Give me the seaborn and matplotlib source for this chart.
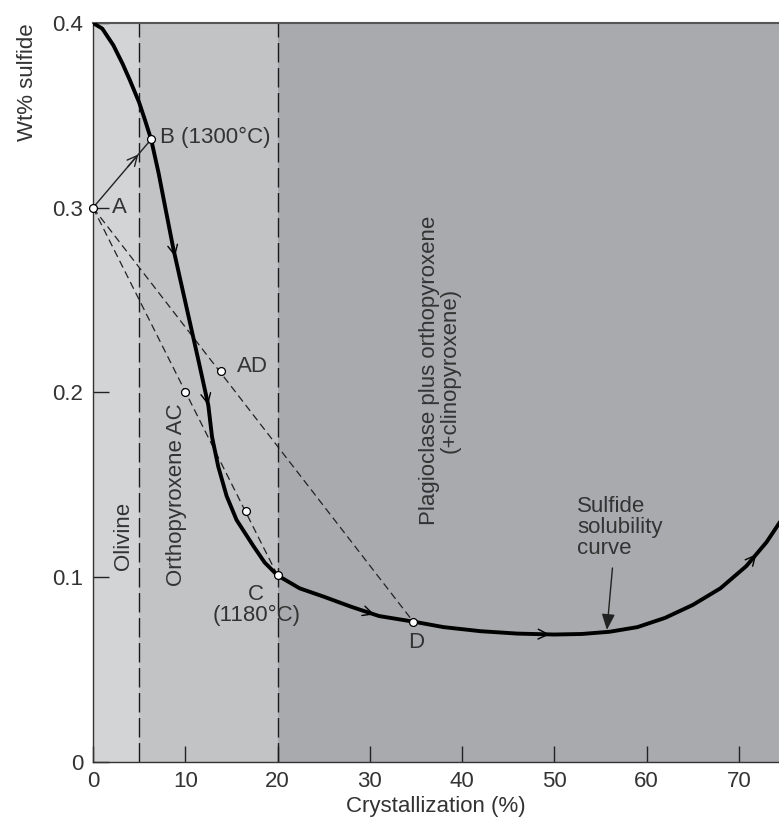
import numpy as np
import pandas as pd
import matplotlib
matplotlib.use("Agg")
import matplotlib.pyplot as plt
import seaborn as sns

# Sulfide solubility curve (crystallization %, wt% sulfide)
curve_x = [0, 1.0, 2.2, 3.2, 4.0, 5.0, 5.6, 6.3, 7.1, 7.8, 8.7, 9.6, 10.5, 11.4,
           12.5, 12.9, 13.57, 14.48, 15.56, 17.37, 18.6, 20.0, 22.4, 25.0, 28.0,
           31.0, 34.7, 38.0, 42.0, 46.0, 50.0, 53.0, 56.0, 59.0, 62.0, 65.0, 68.0,
           70.8, 73.0, 74.6]
curve_y = [0.400, 0.397, 0.388, 0.378, 0.369, 0.357, 0.348, 0.337, 0.319, 0.301,
           0.278, 0.258, 0.238, 0.218, 0.193, 0.176, 0.160, 0.144, 0.131, 0.117,
           0.108, 0.101, 0.094, 0.0895, 0.084, 0.079, 0.076, 0.073, 0.0708, 0.0695,
           0.069, 0.0693, 0.0705, 0.073, 0.078, 0.085, 0.094, 0.106, 0.119, 0.131]

# labelled points
pt_names = ["A", "B", "AC", "AC2", "AD", "C", "D"]
pt_x = [0, 6.3, 10.0, 16.6, 13.9, 20.0, 34.7]
pt_y = [0.300, 0.337, 0.200, 0.1357, 0.2117, 0.101, 0.076]

# crystallization fields
zone_edges = [0, 5, 20, 74.35]
zone_colors = ["#d3d4d6", "#c2c3c5", "#a9aaae"]

# where the flow arrows sit on the curve
arrow_x = [8.9, 12.49, 30.5, 49.5, 71.9]

xticks = [0, 10, 20, 30, 40, 50, 60, 70]
yticks = [0, 0.1, 0.2, 0.3, 0.4]
ytick_labels = ["0", "0.1", "0.2", "0.3", "0.4"]

sns.set_theme(style="ticks")
plt.rcParams["font.family"] = ["Liberation Sans", "DejaVu Sans"]
plt.rcParams["font.size"] = 16
txt = "#333333"

fig = plt.figure(figsize=(7.79, 8.23), dpi=100)
ax = fig.add_axes([93 / 779, 61 / 823, 1 - 93 / 779, (762 - 23) / 823])

# shaded fields and their dashed boundaries
for x0, x1, c in zip(zone_edges[:-1], zone_edges[1:], zone_colors):
    ax.axvspan(x0, x1, color=c, lw=0, zorder=0)
for xb in zone_edges[1:-1]:
    ax.axvline(xb, color="#1a1a1a", lw=1.0, ls=(0, (14, 4)), zorder=1)

# tie lines from A
pts = pd.DataFrame({"name": pt_names, "x": pt_x, "y": pt_y}).set_index("name")
ab = pts.loc[["A", "B"]]
sns.lineplot(x=ab.x.values, y=ab.y.values, sort=False, color="#222222", lw=1.0, ax=ax, zorder=3)
for end in ["C", "D"]:
    seg = pts.loc[["A", end]]
    sns.lineplot(x=seg.x.values, y=seg.y.values, sort=False, color="#222222", lw=0.9,
                 ax=ax, zorder=3, dashes=False, linestyle=(0, (6, 3.5)))

# arrowhead on A -> B
a, b = pts.loc["A"], pts.loc["B"]
frac = 0.78
ax.annotate("", xy=(a.x + frac * (b.x - a.x), a.y + frac * (b.y - a.y)),
            xytext=(a.x + 0.6 * (b.x - a.x), a.y + 0.6 * (b.y - a.y)),
            arrowprops=dict(arrowstyle="->,head_length=0.45,head_width=0.22",
                            lw=1.0, color="#222222", shrinkA=0, shrinkB=0), zorder=3)

# main curve
sns.lineplot(x=curve_x, y=curve_y, sort=False, color="black", lw=2.8, ax=ax, zorder=4,
             solid_joinstyle="round")

# open arrowheads along the curve
for xa in arrow_x:
    ya = np.interp(xa, curve_x, curve_y)
    yb = np.interp(xa - 0.25, curve_x, curve_y)
    ax.annotate("", xy=(xa, ya), xytext=(xa - 0.25, yb),
                arrowprops=dict(arrowstyle="->,head_length=0.45,head_width=0.22",
                                lw=1.0, color="black", shrinkA=0, shrinkB=0), zorder=5)

# points
sns.scatterplot(x=pt_x, y=pt_y, s=32, color="white", edgecolor="black", linewidth=0.9,
                ax=ax, zorder=6, clip_on=False)

# labels
ax.text(2.05, 0.300, "A", ha="left", va="center", color=txt)
ax.text(7.3, 0.338, "B (1300°C)", ha="left", va="center", color=txt)
ax.text(15.6, 0.214, "AD", ha="left", va="center", color=txt)
ax.text(17.7, 0.085, "C\n(1180°C)", ha="center", va="center", color=txt, linespacing=1.0)
ax.text(35.0, 0.0646, "D", ha="center", va="center", color=txt)
ax.text(3.3, 0.1226, "Olivine", rotation=90, ha="center", va="center", color=txt)
ax.text(9.0, 0.095, "Orthopyroxene AC", rotation=90, ha="center", va="bottom", color=txt)
ax.text(37.6, 0.212, "Plagioclase plus orthopyroxene\n(+clinopyroxene)", rotation=90,
        ha="center", va="center", multialignment="center", color=txt, linespacing=1.0)
ax.text(52.5, 0.127, "Sulfide\nsolubility\ncurve", ha="left", va="center", color=txt,
        linespacing=1.0)
ax.annotate("", xy=(55.7, 0.0715), xytext=(56.3, 0.105),
            arrowprops=dict(arrowstyle="-|>,head_length=0.6,head_width=0.25",
                            lw=1.0, color="#222222", shrinkA=0, shrinkB=0), zorder=5)

# axes
ax.set_xlim(zone_edges[0], zone_edges[-1])
ax.set_ylim(0, 0.4)
ax.set_xticks(xticks)
ax.set_xticklabels([str(t) for t in xticks])
ax.set_yticks(yticks)
ax.set_yticklabels(ytick_labels)
ax.tick_params(direction="in", length=11.5, width=1.0, color="#222222", labelcolor=txt,
               labelsize=16)
ax.tick_params(axis="x", pad=6.5)
ax.tick_params(axis="y", pad=7)
ax.set_xlabel("Crystallization (%)", fontsize=16, color=txt, labelpad=3)
ax.set_ylabel("Wt% sulfide", fontsize=16, color=txt, loc="top", labelpad=10)

ax.spines["right"].set_visible(False)
ax.spines["top"].set_color("#555555")
ax.spines["top"].set_linewidth(1.5)
for s in ["left", "bottom"]:
    ax.spines[s].set_color("#333333")
    ax.spines[s].set_linewidth(1.0)

fig.savefig("out.png", dpi=100)
